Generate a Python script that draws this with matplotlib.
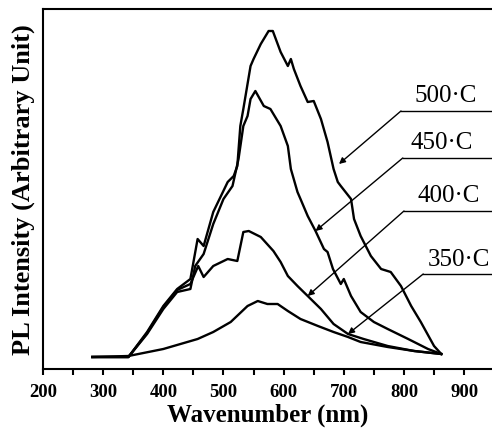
import numpy as np
from matplotlib import pyplot as plt

plt.rcParams['font.family'] = ['Liberation Serif', 'DejaVu Serif']

# PL spectra (wavelength nm, intensity arb. units)
x500 = [282, 342, 373, 400, 423, 445, 457, 467, 483, 507, 517, 523, 528, 533, 545, 550, 562,
        575, 582, 595, 607, 612, 617, 628, 640, 650, 662, 673, 683, 690, 695, 712, 717, 728,
        745, 762, 778, 795, 812, 828, 850, 862]
y500 = [14, 14, 39, 65, 82, 92, 132, 125, 159, 189, 195, 205, 245, 262, 305, 312, 327,
        340, 340, 319, 305, 312, 302, 285, 269, 270, 252, 229, 202, 189, 185, 172, 152, 135,
        115, 102, 99, 85, 65, 49, 25, 17]

x450 = [282, 342, 373, 400, 423, 445, 453, 467, 483, 500, 515, 525, 533, 540, 545, 553, 567,
        578, 595, 607, 612, 623, 628, 640, 653, 667, 673, 682, 695, 700, 712, 728, 750, 773,
        807, 840, 862]
y450 = [14, 14, 37, 62, 79, 82, 105, 117, 147, 172, 185, 212, 245, 255, 272, 280, 265,
        262, 245, 225, 202, 179, 172, 155, 140, 122, 119, 102, 87, 92, 75, 59, 49, 42,
        32, 22, 17]

x400 = [282, 342, 373, 400, 423, 445, 458, 467, 483, 507, 523, 533, 542, 562, 583, 595, 607,
        623, 640, 662, 683, 707, 733, 773, 817, 862]
y400 = [14, 14, 38, 64, 81, 87, 105, 94, 105, 112, 110, 139, 140, 134, 120, 109, 95,
        85, 75, 62, 47, 37, 32, 25, 20, 17]

x350 = [282, 342, 400, 457, 483, 512, 540, 557, 573, 590, 607, 628, 657, 683, 707, 728, 773,
        817, 862]
y350 = [14, 15, 22, 32, 39, 49, 65, 70, 67, 67, 60, 52, 45, 39, 34, 29, 24, 20, 17]

labels = ['500·C', '450·C', '400·C', '350·C']

fig = plt.figure(figsize=(4.92, 4.35), dpi=100)
ax = fig.add_axes([43/492, 65/435, 450/492, 360/435])

for xs, ys in [(x500, y500), (x450, y450), (x400, y400), (x350, y350)]:
    ax.plot(xs, ys, color='black', lw=1.7)

# label lines: (line start x, line y, arrow tip x, tip y, text x, text y)
ann = [(795, 260, 692, 207, 870, 276),
       (798, 213, 653, 140, 863, 229),
       (800, 160, 640, 75, 875, 176),
       (832, 97, 707, 37, 892, 112)]
for lab, (x0, yl, xt, yt, tx, ty) in zip(labels, ann):
    ax.plot([x0, 948], [yl, yl], color='black', lw=1.0, clip_on=False)
    ax.annotate('', xy=(xt, yt), xytext=(x0, yl),
                arrowprops=dict(arrowstyle='-|>', color='black', lw=1.0,
                                mutation_scale=9, shrinkA=0, shrinkB=0))
    ax.text(tx, ty, lab, fontsize=18, ha='center', va='center')

ax.set_xlim(200, 948)
ax.set_ylim(2, 362)
ax.set_xticks(range(200, 901, 100))
ax.set_xticks(range(250, 901, 100), minor=True)
ax.set_yticks([])
ax.tick_params(axis='x', which='both', direction='out', length=4, width=1.5, pad=6)
for lbl in ax.get_xticklabels():
    lbl.set_fontweight('bold')
    lbl.set_fontsize(13.5)
ax.spines['right'].set_visible(False)
for s in ['left', 'bottom', 'top']:
    ax.spines[s].set_linewidth(1.5)

ax.set_xlabel('Wavenumber (nm)', fontsize=18, fontweight='bold', labelpad=2)
ax.set_ylabel('PL Intensity (Arbitrary Unit)', fontsize=19, fontweight='bold', labelpad=6)

plt.savefig('out.png', dpi=100)
